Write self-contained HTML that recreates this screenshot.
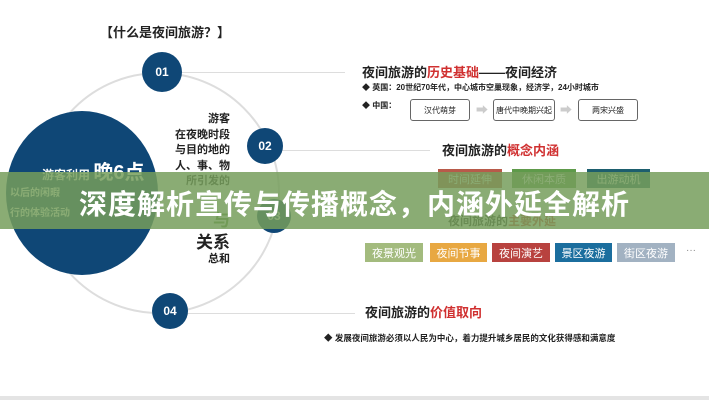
<!DOCTYPE html><html><head><meta charset="utf-8"><style>
body{margin:0;width:709px;height:400px;overflow:hidden;background:#fff;position:relative;font-family:"Liberation Sans","Noto Sans CJK SC",sans-serif;color:#222}
.a{position:absolute;white-space:nowrap}
.n{position:absolute;border-radius:50%;background:#0f4776;color:#fff;font-weight:bold;font-size:12px;display:flex;align-items:center;justify-content:center}
.l{position:absolute;height:1px;background:#ddd}
.bx{position:absolute;border:1.5px solid #666;border-radius:3px;font-size:8px;display:flex;align-items:center;justify-content:center;background:#fff}
.tg{position:absolute;top:243px;height:19px;color:#fff;font-size:11px;display:flex;align-items:center;justify-content:center}
.r{color:#d03030}
</style></head><body>
<div class="a" style="left:100px;top:22px;font-size:13px;font-weight:bold">【什么是夜间旅游？】</div>
<div class="l" style="left:180px;top:72px;width:165px"></div>
<div class="l" style="left:280px;top:150px;width:150px"></div>
<div class="l" style="left:185px;top:313px;width:170px"></div>
<div style="position:absolute;left:38px;top:72px;width:238px;height:238px;border:2px solid #ddd;border-radius:50%"></div>
<div style="position:absolute;left:6px;top:111px;width:152px;height:164px;border-radius:50%;background:#0f4776"></div>
<div class="a" style="left:42px;top:156px;color:#fff;font-size:12px;font-weight:bold">游客利用 <span style="font-size:20px">晚6点</span></div>
<div class="a" style="left:10px;top:184px;color:#fff;font-size:10px;font-weight:bold">以后的闲暇</div>
<div class="a" style="left:10px;top:204px;color:#fff;font-size:10px;font-weight:bold">行的体验活动</div>
<div class="n" style="left:142px;top:52px;width:40px;height:40px">01</div>
<div class="n" style="left:247px;top:128px;width:36px;height:36px">02</div>
<div class="n" style="left:257px;top:199px;width:34px;height:34px">03</div>
<div class="n" style="left:152px;top:293px;width:36px;height:36px">04</div>
<div class="a" style="left:160px;top:112px;width:70px;text-align:right;font-size:11px;font-weight:bold;line-height:15.5px">游客<br>在夜晚时段<br>与目的地的<br>人、事、物<br>所引发的</div>
<div class="a" style="left:160px;top:206px;width:70px;text-align:right;font-size:17px;font-weight:bold;color:#5a8a3a">与</div>
<div class="a" style="left:160px;top:228px;width:70px;text-align:right;font-size:17px;font-weight:bold">关系</div>
<div class="a" style="left:160px;top:250px;width:70px;text-align:right;font-size:11px;font-weight:bold">总和</div>
<div class="a" style="left:362px;top:62px;font-size:13px;font-weight:bold">夜间旅游的<span class="r">历史基础</span>——夜间经济</div>
<div class="a" style="left:362px;top:82px;font-size:8px;font-weight:bold">◆ 英国：20世纪70年代，中心城市空巢现象，经济学，24小时城市</div>
<div class="a" style="left:362px;top:100px;font-size:8px;font-weight:bold">◆ 中国：</div>
<div class="bx" style="left:410px;top:99px;width:58px;height:20px">汉代萌芽</div>
<div class="a" style="left:476px;top:101px;color:#ccc;font-size:12px">➡</div>
<div class="bx" style="left:493px;top:99px;width:60px;height:20px">唐代中晚期兴起</div>
<div class="a" style="left:560px;top:101px;color:#ccc;font-size:12px">➡</div>
<div class="bx" style="left:578px;top:99px;width:58px;height:20px">两宋兴盛</div>
<div class="a" style="left:442px;top:140px;font-size:13px;font-weight:bold">夜间旅游的<span class="r">概念内涵</span></div>
<div class="tg" style="left:438px;top:169px;width:64px;background:#b85a4a">时间延伸</div>
<div class="tg" style="left:512px;top:169px;width:64px;background:#5e9a4a">休闲本质</div>
<div class="tg" style="left:587px;top:169px;width:63px;background:#1d5e6e">出游动机</div>
<div class="a" style="left:448px;top:212px;font-size:12px;font-weight:bold">夜间旅游的<span class="r">主要外延</span></div>
<div class="tg" style="left:365px;width:58px;background:#a3bb7e">夜景观光</div>
<div class="tg" style="left:430px;width:57px;background:#e8a842">夜间节事</div>
<div class="tg" style="left:492px;width:58px;background:#b8423f">夜间演艺</div>
<div class="tg" style="left:555px;width:57px;background:#1b6e9e">景区夜游</div>
<div class="tg" style="left:617px;width:58px;background:#a2b2c2">街区夜游</div>
<div class="a" style="left:686px;top:245px;font-size:10px;color:#888">···</div>
<div class="a" style="left:365px;top:302px;font-size:13px;font-weight:bold">夜间旅游的<span class="r">价值取向</span></div>
<div class="a" style="left:324px;top:332px;font-size:8.5px;font-weight:bold">◆ 发展夜间旅游必须以人民为中心，着力提升城乡居民的文化获得感和满意度</div>
<div style="position:absolute;left:0;top:172px;width:709px;height:57px;background:rgba(118,158,92,0.85)"></div>
<div class="a" style="left:0;top:183px;width:709px;text-align:center;color:#fff;font-size:28px;font-weight:bold;letter-spacing:1px">深度解析宣传与传播概念，内涵外延全解析</div>
<div style="position:absolute;left:0;top:396px;width:709px;height:4px;background:#e4e4e4"></div>
</body></html>
